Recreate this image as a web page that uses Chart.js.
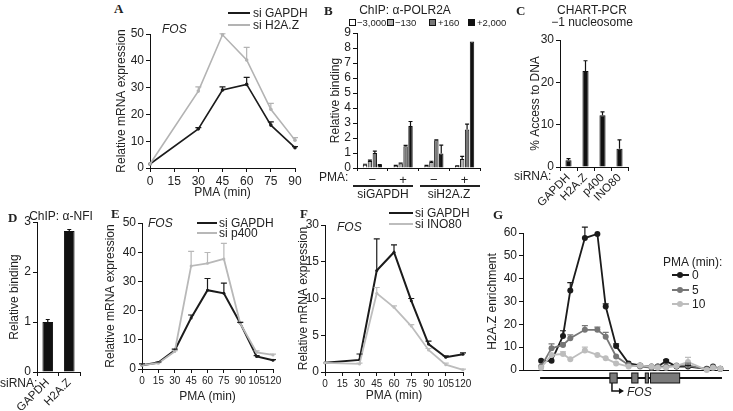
<!DOCTYPE html>
<html><head><meta charset="utf-8">
<script src="https://cdn.jsdelivr.net/npm/chart.js@4.4.0/dist/chart.umd.min.js"></script>
<style>
body{margin:0;width:733px;height:411px;position:relative;overflow:hidden;background:#fff;font-family:'Liberation Sans',Arial,sans-serif;color:#222}
canvas{position:absolute}
.t{position:absolute;white-space:nowrap;font-size:12px;line-height:12px;z-index:2}
.c{transform:translateX(-50%)}
.s{font-size:9.5px;line-height:10px}
.L{position:absolute;font-family:'Liberation Serif','Times New Roman',serif;font-weight:bold;font-size:13px;line-height:13px;z-index:2}
.ln{position:absolute;height:2px;z-index:2}
.sq{position:absolute;width:7px;height:7px;border:1px solid #111;box-sizing:border-box;z-index:2}
.dot{position:absolute;width:6px;height:6px;border-radius:50%;z-index:2}
i{font-style:italic}
</style></head><body>

<div class="L" style="left:114px;top:2px">A</div>
<div class="t" style="left:162px;top:23px"><i>FOS</i></div>
<div class="ln" style="left:228px;top:12px;width:22px;background:#1b1b1b"></div>
<div class="ln" style="left:228px;top:24px;width:22px;background:#b3b3b3"></div>
<div class="t" style="left:253px;top:7px">si GAPDH</div>
<div class="t" style="left:253px;top:19px">si H2A.Z</div>

<div class="L" style="left:324px;top:4px">B</div>
<div class="t c" style="left:405px;top:4px">ChIP: α-POLR2A</div>
<div class="sq" style="left:349px;top:19px;background:#fff"></div>
<div class="t s" style="left:357px;top:18px">−3,000</div>
<div class="sq" style="left:387px;top:19px;background:#b0b0b0"></div>
<div class="t s" style="left:395px;top:18px">−130</div>
<div class="sq" style="left:429px;top:19px;background:#787878"></div>
<div class="t s" style="left:438px;top:18px">+160</div>
<div class="sq" style="left:468px;top:19px;background:#111"></div>
<div class="t s" style="left:477px;top:18px">+2,000</div>
<div class="t" style="left:319px;top:171px">PMA:</div>
<div class="ln" style="left:353px;top:185px;width:60px;height:1.5px;background:#222"></div>
<div class="ln" style="left:420px;top:185px;width:60px;height:1.5px;background:#222"></div>
<div class="t c" style="left:383px;top:188px">siGAPDH</div>
<div class="t c" style="left:449px;top:188px">siH2A.Z</div>

<div class="L" style="left:516px;top:4px">C</div>
<div class="t c" style="left:592px;top:4px">CHART-PCR</div>
<div class="t c" style="left:592px;top:16px">−1 nucleosome</div>
<div class="t" style="left:514px;top:170px">siRNA:</div>

<div class="L" style="left:8px;top:211px">D</div>
<div class="t c" style="left:61px;top:210px">ChIP: α-NFI</div>
<div class="t" style="left:0px;top:377px">siRNA:</div>

<div class="L" style="left:111px;top:207px">E</div>
<div class="t" style="left:148px;top:217px"><i>FOS</i></div>
<div class="ln" style="left:197px;top:222px;width:20px;background:#1b1b1b"></div>
<div class="ln" style="left:197px;top:232px;width:20px;background:#b8b8b8"></div>
<div class="t" style="left:219px;top:217px">si GAPDH</div>
<div class="t" style="left:219px;top:227px">si p400</div>

<div class="L" style="left:300px;top:207px">F</div>
<div class="t" style="left:337px;top:221px"><i>FOS</i></div>
<div class="ln" style="left:389px;top:212px;width:24px;background:#1b1b1b"></div>
<div class="ln" style="left:389px;top:223px;width:24px;background:#bdbdbd"></div>
<div class="t" style="left:415px;top:207px">si GAPDH</div>
<div class="t" style="left:415px;top:218px">si INO80</div>

<div class="L" style="left:493px;top:208px">G</div>
<div class="t" style="left:663px;top:256px">PMA (min):</div>
<div class="ln" style="left:672px;top:274px;width:17px;background:#1b1b1b"></div>
<div class="dot" style="left:677px;top:272px;background:#1b1b1b"></div>
<div class="t" style="left:692px;top:269px">0</div>
<div class="ln" style="left:672px;top:289px;width:17px;background:#767676"></div>
<div class="dot" style="left:677px;top:287px;background:#767676"></div>
<div class="t" style="left:692px;top:284px">5</div>
<div class="ln" style="left:672px;top:303px;width:17px;background:#bdbdbd"></div>
<div class="dot" style="left:677px;top:301px;background:#bdbdbd"></div>
<div class="t" style="left:692px;top:298px">10</div>
<div class="t" style="left:627px;top:386px"><i>FOS</i></div>

<script>
"use strict"

// A: FOS after H2A.Z knockdown
var minutesA = [0, 30, 45, 60, 75, 90]
var gapdhA = [1.5, 14.6, 29.1, 31.2, 16.0, 7.6]
var gapdhAErr = [0, 0.5, 1.2, 2.6, 1.2, 0.4]
var h2azA = [1.5, 28.7, 49.7, 40.3, 21.9, 10.4]
var h2azAErr = [0, 1.6, 0.4, 4.7, 2.2, 0.9]

// B: POLR2A ChIP
var groupsB = ['−', '+', '−', '+']
var m3000B = [0.22, 0.15, 0.15, 0.13]
var m3000BErr = [0.03, 0.02, 0.02, 0.02]
var m130B = [0.47, 0.3, 0.4, 0.6]
var m130BErr = [0.06, 0.03, 0.05, 0.18]
var p160B = [1.0, 1.45, 1.85, 2.57]
var p160BErr = [0.13, 0.06, 0.03, 0.35]
var p2000B = [0.2, 2.8, 0.96, 8.44]
var p2000BErr = [0.03, 0.3, 0.56, 0]

// C: CHART-PCR
var sirnaC = ['GAPDH', 'H2A.Z', 'p400', 'INO80']
var accessC = [1.6, 22.7, 12.2, 4.3]
var accessCErr = [0.4, 2.4, 0.8, 2.1]
var yTicksC = [0, 10, 20, 30]

// D: NFI ChIP
var sirnaD = ['GAPDH', 'H2A.Z']
var bindingD = [1.0, 2.82]
var bindingDErr = [0.05, 0.03]

// E: p400 knockdown
var minutesE = [0, 15, 30, 45, 60, 75, 90, 105, 120]
var gapdhE = [1.3, 2.2, 6.4, 17.5, 27.0, 25.9, 15.7, 4.3, 3.0]
var gapdhEErr = [0.5, 0.2, 0.4, 1.0, 4.0, 3.5, 0.3, 0.3, 0.2]
var p400E = [1.3, 2.0, 6.0, 35.3, 36.2, 37.7, 15.6, 5.7, 4.8]
var p400EErr = [0.3, 0.2, 0.3, 5.0, 3.7, 5.3, 0.4, 0.5, 0.3]
var xTicksEF = [0, 15, 30, 45, 60, 75, 90, 105, 120]

// F: INO80 knockdown
var minutesF = [0, 30, 45, 60, 75, 90, 105, 120]
var gapdhF = [1.25, 1.65, 13.8, 16.3, 9.7, 3.8, 2.0, 2.4]
var gapdhFErr = [0, 0.8, 4.3, 1.0, 0.3, 0.4, 0.2, 0.2]
var ino80F = [1.25, 1.1, 10.7, 8.8, 6.25, 3.0, 1.0, 0.3]
var ino80FErr = [0, 0.1, 0.8, 0.2, 0.2, 0.2, 0.2, 0.1]
var yTicksF = ['0', '5', '10', '15', '30']

// G: H2A.Z across the FOS locus (bp from TSS)
var posG = [-3400, -2900, -2350, -2000, -1300, -700, -300, 200, 800, 1350, 1900, 2200, 2600, 3100, 3650, 4550, 4850, 5200]
var pma0G = [4.0, 4.0, 14.9, 34.8, 57.8, 59.6, 27.8, 10.5, 2.9, 2.0, 1.5, 1.5, 3.9, 1.5, 1.5, 0.5, 1.5, 0.5]
var pma0GErr = [0, 0, 2.3, 3.5, 4.8, 0, 1.2, 0.9, 0, 0, 0, 0, 0.5, 0, 0.5, 0, 0, 0]
var pma5G = [1.5, 9.5, 11.0, 13.9, 17.6, 17.6, 14.6, 5.9, 2.2, 1.5, 1.0, 1.5, 1.5, 2.0, 2.0, 0.3, 1.2, 0.5]
var pma5GErr = [0, 1.9, 1.0, 1.5, 1.8, 1.2, 1.9, 0, 0, 0, 0, 0, 0, 0, 1.0, 0, 0, 0]
var pma10G = [1.0, 6.6, 7.0, 4.7, 8.5, 6.6, 5.1, 2.9, 1.5, 2.0, 1.5, 1.0, 1.0, 1.8, 3.5, 0, 1.0, 0.5]
var pma10GErr = [0, 0, 1.0, 0, 1.5, 0, 0, 0, 0, 0, 0, 0, 0, 0, 2.0, 0, 0, 0]
var geneSpanG = [-3450, 5280]
var exonsG = [[-100, 250], [950, 1250], [1600, 1750], [1850, 3250]]

Chart.defaults.font.family = "'Liberation Sans', Arial, sans-serif"
Chart.defaults.font.size = 12
Chart.defaults.color = '#222'
Chart.defaults.animation = false
Chart.defaults.plugins.legend.display = false
Chart.defaults.plugins.tooltip.enabled = false

var errorBars = {
	id: 'errorBars',
	afterDatasetsDraw: function(chart){
		var ctx = chart.ctx
		chart.data.datasets.forEach(function(ds, i){
			if (!ds.errors) return
			var meta = chart.getDatasetMeta(i),
			y = chart.scales[meta.yAxisID]
			ctx.save()
			ctx.strokeStyle = ds.errorColor || ds.borderColor
			ctx.lineWidth = 1.2
			meta.data.forEach(function(el, j){
				var e = ds.errors[j]
				if (!e) return
				var v = typeof ds.data[j] === 'object' ? ds.data[j].y : ds.data[j],
				top = y.getPixelForValue(v + e),
				cap = ds.capWidth || 2.5
				ctx.beginPath()
				ctx.moveTo(el.x, el.y)
				ctx.lineTo(el.x, top)
				ctx.moveTo(el.x - cap, top)
				ctx.lineTo(el.x + cap, top)
				ctx.stroke()
			})
			ctx.restore()
		})
	}
}

function xy(xs, ys){
	return xs.map(function(x, i){ return {x: x, y: ys[i]} })
}

function fixedTicks(values){
	return function(s){ s.ticks = values.map(function(v){ return {value: v} }) }
}

function axis(ticks, extra){
	return Object.assign({
		border: {color: '#111', width: 1},
		grid: {drawOnChartArea: false, color: '#111', tickLength: 4, tickWidth: 1},
		ticks: Object.assign({color: '#222', padding: 2, autoSkip: false, font: {size: 12}}, ticks)
	}, extra || {})
}

function yTitle(text){
	return {display: true, text: text, padding: 0, color: '#222', font: {size: 12}}
}

function line(data, color, width, radius, errors){
	return {
		data: data, borderColor: color, backgroundColor: color, borderWidth: width,
		pointRadius: radius, pointBorderWidth: 0, pointHoverRadius: radius,
		errors: errors, capWidth: 3, clip: 6, tension: 0
	}
}

function bar(data, color, errors){
	return {
		data: data, backgroundColor: color, borderColor: '#111', borderWidth: 1,
		errors: errors, errorColor: '#111', capWidth: 2
	}
}

function panel(box, pad, config){
	var c = document.createElement('canvas'),
	w = box.r - box.l + pad.l + pad.r,
	h = box.b - box.t + pad.t + pad.b
	c.width = w
	c.height = h
	c.style.left = (box.l - pad.l) + 'px'
	c.style.top = (box.t - pad.t) + 'px'
	c.style.width = w + 'px'
	c.style.height = h + 'px'
	document.body.insertBefore(c, document.body.firstChild)
	config.options.responsive = false
	config.options.layout = {padding: {top: pad.t, right: pad.r, left: 0, bottom: 0}}
	config.options.scales.x.afterFit = function(s){ s.height = pad.b }
	config.options.scales.y.afterFit = function(s){ s.width = pad.l }
	config.plugins = (config.plugins || []).concat([errorBars])
	return new Chart(c, config)
}

// A
panel({l: 150, t: 34, r: 295, b: 168}, {l: 36, t: 12, r: 12, b: 32}, {
	type: 'line',
	data: {datasets: [
		line(xy(minutesA, h2azA), '#b3b3b3', 1.6, 1.8, h2azAErr),
		line(xy(minutesA, gapdhA), '#1b1b1b', 1.6, 1.8, gapdhAErr)
	]},
	options: {scales: {
		x: axis({stepSize: 15}, {type: 'linear', min: 0, max: 90, title: {display: true, text: 'PMA (min)', padding: 0, color: '#222'}}),
		y: axis({stepSize: 10}, {min: 0, max: 50, title: yTitle('Relative mRNA expression')})
	}}
})

// B
panel({l: 357, t: 33, r: 480, b: 168}, {l: 29, t: 10, r: 8, b: 16}, {
	type: 'bar',
	data: {labels: groupsB, datasets: [
		bar(m3000B, '#ffffff', m3000BErr),
		bar(m130B, '#b0b0b0', m130BErr),
		bar(p160B, '#787878', p160BErr),
		bar(p2000B, '#111111', p2000BErr)
	]},
	options: {
		datasets: {bar: {categoryPercentage: 0.64, barPercentage: 0.9}},
		scales: {
			x: axis({font: {size: 13}}, {grid: {drawOnChartArea: false, color: '#111', tickLength: 3, offset: true}}),
			y: axis({stepSize: 1}, {min: 0, max: 9, title: yTitle('Relative binding')})
		}
	}
})

// C
panel({l: 560, t: 40, r: 628, b: 167}, {l: 32, t: 10, r: 10, b: 42}, {
	type: 'bar',
	data: {labels: sirnaC, datasets: [bar(accessC, '#111111', accessCErr)]},
	options: {
		datasets: {bar: {categoryPercentage: 0.8, barPercentage: 0.45}},
		scales: {
			x: axis({font: {size: 11.5}, minRotation: 45, maxRotation: 45, padding: 0}),
			y: axis({}, {min: 0, max: 30, afterBuildTicks: fixedTicks(yTicksC), title: yTitle('% Access to DNA')})
		}
	}
})

// D
panel({l: 37, t: 222, r: 80, b: 372}, {l: 30, t: 10, r: 10, b: 38}, {
	type: 'bar',
	data: {labels: sirnaD, datasets: [bar(bindingD, '#111111', bindingDErr)]},
	options: {
		datasets: {bar: {categoryPercentage: 0.9, barPercentage: 0.55}},
		scales: {
			x: axis({font: {size: 11.5}, minRotation: 45, maxRotation: 45, padding: 0}),
			y: axis({stepSize: 1}, {min: 0, max: 3, title: yTitle('Relative binding')})
		}
	}
})

// E
panel({l: 142, t: 223, r: 273, b: 369}, {l: 39, t: 10, r: 12, b: 35}, {
	type: 'line',
	data: {datasets: [
		line(xy(minutesE, p400E), '#b8b8b8', 1.8, 1.5, p400EErr),
		line(xy(minutesE, gapdhE), '#1b1b1b', 2, 1.5, gapdhEErr)
	]},
	options: {scales: {
		x: axis({maxRotation: 0, font: {size: 10}}, {type: 'linear', min: 0, max: 120, afterBuildTicks: fixedTicks(xTicksEF), title: {display: true, text: 'PMA (min)', padding: 0, color: '#222'}}),
		y: axis({stepSize: 10}, {min: 0, max: 50, title: yTitle('Relative mRNA expression')})
	}}
})

// F
panel({l: 325, t: 225, r: 463, b: 372}, {l: 29, t: 10, r: 12, b: 31}, {
	type: 'line',
	data: {datasets: [
		line(xy(minutesF, ino80F), '#bdbdbd', 1.8, 1.5, ino80FErr),
		line(xy(minutesF, gapdhF), '#1b1b1b', 2, 1.5, gapdhFErr)
	]},
	options: {scales: {
		x: axis({maxRotation: 0, font: {size: 10}}, {type: 'linear', min: 0, max: 120, afterBuildTicks: fixedTicks(xTicksEF), title: {display: true, text: 'PMA (min)', padding: 0, color: '#222'}}),
		y: axis({stepSize: 5, callback: function(v, i){ return yTicksF[i] }}, {min: 0, max: 20, title: yTitle('Relative mRNA expression')})
	}}
})

// G, with the gene model under the axis
var geneModel = {
	id: 'geneModel',
	afterDraw: function(chart){
		var ctx = chart.ctx, x = chart.scales.x,
		y = chart.chartArea.bottom + 8
		ctx.save()
		ctx.strokeStyle = '#111'
		ctx.lineWidth = 2
		ctx.beginPath()
		ctx.moveTo(x.getPixelForValue(geneSpanG[0]), y)
		ctx.lineTo(x.getPixelForValue(geneSpanG[1]), y)
		ctx.stroke()
		ctx.fillStyle = '#7a7a7a'
		ctx.lineWidth = 1
		exonsG.forEach(function(ex){
			var a = x.getPixelForValue(ex[0]), b = x.getPixelForValue(ex[1])
			ctx.fillRect(a, y - 5, b - a, 10)
			ctx.strokeRect(a, y - 5, b - a, 10)
		})
		var t = x.getPixelForValue(0)
		ctx.lineWidth = 1.5
		ctx.beginPath()
		ctx.moveTo(t, y + 5)
		ctx.lineTo(t, y + 13)
		ctx.lineTo(t + 9, y + 13)
		ctx.stroke()
		ctx.fillStyle = '#111'
		ctx.beginPath()
		ctx.moveTo(t + 12, y + 13)
		ctx.lineTo(t + 7, y + 10)
		ctx.lineTo(t + 7, y + 16)
		ctx.fill()
		ctx.restore()
	}
}

panel({l: 523, t: 233, r: 728, b: 370}, {l: 38, t: 10, r: 4, b: 26}, {
	type: 'line',
	data: {datasets: [
		line(xy(posG, pma10G), '#bdbdbd', 1.8, 3, pma10GErr),
		line(xy(posG, pma5G), '#767676', 1.8, 3, pma5GErr),
		line(xy(posG, pma0G), '#1b1b1b', 1.8, 3, pma0GErr)
	]},
	options: {scales: {
		x: {type: 'linear', min: -4270, max: 5570, grid: {display: false}, ticks: {display: false}, border: {display: true, color: '#111'}},
		y: axis({stepSize: 10}, {min: 0, max: 60, title: yTitle('H2A.Z enrichment')})
	}},
	plugins: [geneModel]
})
</script>
</body></html>
